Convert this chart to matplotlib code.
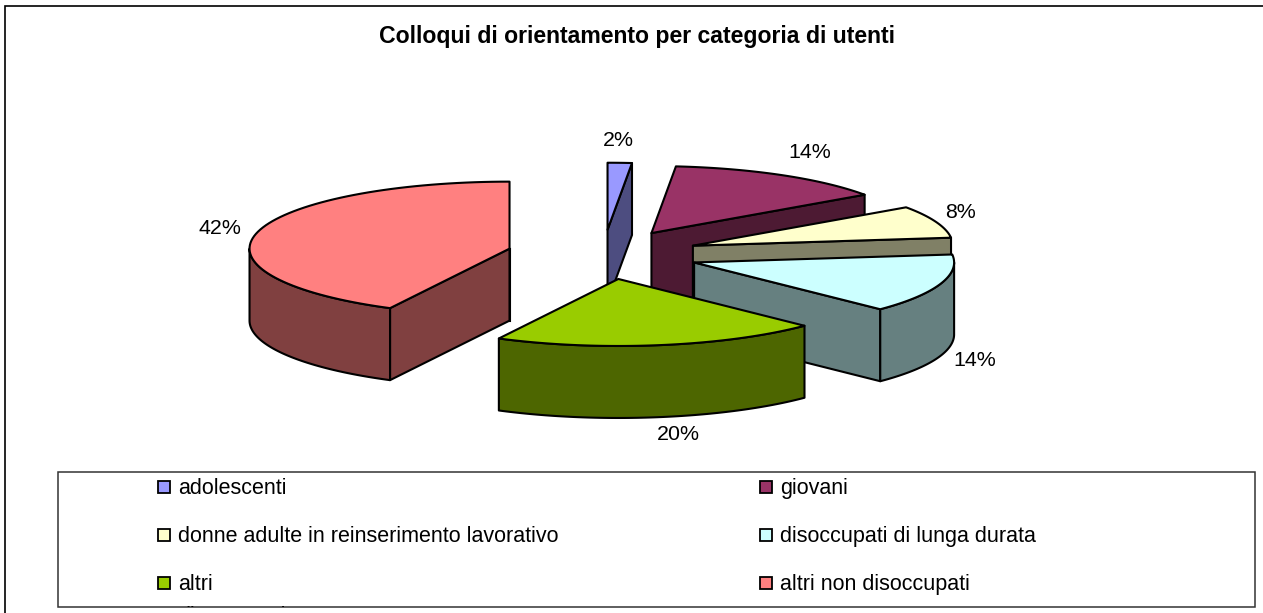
import numpy as np
import matplotlib
matplotlib.use('Agg')
import matplotlib.pyplot as plt
from matplotlib.colors import to_rgb
from matplotlib.patches import Polygon, Rectangle

categories = ['adolescenti', 'giovani', 'donne adulte in reinserimento lavorativo',
              'disoccupati di lunga durata', 'altri\ndisoccupati', 'altri non disoccupati']
values = [1.5, 13.8, 7.8, 14.2, 20.3, 42.4]
colours = ['#9999FF', '#993366', '#FFFFCC', '#CCFFFF', '#99CC00', '#FF8080']
draw_order = [5, 0, 1, 2, 3, 4]
title = 'Colloqui di orientamento per categoria di utenti'

plt.rcParams['font.family'] = ['Liberation Sans', 'DejaVu Sans']

W, H = 1263, 613
CX, CY = 603, 254.5
RX, RY = 260, 67
DEPTH = 72
EXPLODE = 0.37
LW = 1.5


def rim(theta, c):
    t = np.radians(theta)
    return c[0] + RX * np.sin(t), c[1] - RY * np.cos(t)


def arc(t1, t2, c, drop=0):
    ts = np.linspace(t1, t2, 80)
    x, y = rim(ts, c)
    return np.column_stack([x, y + drop])


def draw_slice(ax, t1, t2, colour):
    mid = (t1 + t2) / 2
    c = np.array(rim(mid, (0, 0))) * EXPLODE + (CX, CY)
    top = to_rgb(colour)
    dark = tuple(v * 0.5 for v in top)
    style = dict(edgecolor='black', linewidth=LW, joinstyle='round')

    # radial faces, only those that point at the viewer
    for t, visible in ((t1, np.sin(np.radians(t1)) < -1e-6), (t2, np.sin(np.radians(t2)) > 1e-6)):
        if visible:
            p = np.array(rim(t, c))
            face = [c, p, p + (0, DEPTH), c + (0, DEPTH)]
            ax.add_patch(Polygon(face, closed=True, facecolor=dark, **style))

    # outer wall on the front half
    lo, hi = max(t1, 90), min(t2, 270)
    if lo < hi:
        wall = np.vstack([arc(lo, hi, c), arc(hi, lo, c, DEPTH)])
        ax.add_patch(Polygon(wall, closed=True, facecolor=dark, **style))

    # edge of a slice that ends at 12 o'clock
    if abs(t2 - 360) < 1e-6:
        ax.plot([c[0], c[0]], [c[1], c[1] + DEPTH], color='black', lw=LW)

    ax.add_patch(Polygon(np.vstack([c, arc(t1, t2, c)]), closed=True, facecolor=top, **style))


fig = plt.figure(figsize=(W / 100, H / 100), dpi=100)
ax = fig.add_axes([0, 0, 1, 1])
ax.set_xlim(0, W)
ax.set_ylim(H, 0)
ax.axis('off')

# outer frame runs off the right and bottom of the picture
ax.add_patch(Rectangle((5, 6), 1300, 640, facecolor='white', edgecolor='black', linewidth=1.2))
ax.text(637, 37, title, fontsize=16.6, fontweight='bold', ha='center', va='center')

angles = np.cumsum([0] + values) / sum(values) * 360
for i in draw_order:
    draw_slice(ax, angles[i], angles[i + 1], colours[i])

# data labels
label_pos = [(618, 141), (810, 152), (960, 213), (975, 361), (678, 435), (220, 228)]
for v, (x, y) in zip(values, label_pos):
    ax.text(x, y, f'{v:.0f}%', fontsize=15.4, ha='center', va='center')

# legend, its last entry is cut by the box as in the original
box = Rectangle((58, 472), 1197, 135, facecolor='white', edgecolor='#333333', linewidth=1.1, zorder=3)
ax.add_patch(box)
col_x = [158, 760]
row_y = [487, 535, 583]
for i, name in enumerate(categories):
    x, y = col_x[i % 2], row_y[i // 2]
    ax.add_patch(Rectangle((x, y - 6), 12, 12, facecolor=colours[i], edgecolor='black',
                           linewidth=1.3, zorder=4))
    t = ax.text(x + 20, y - 9, name, fontsize=15.5, va='top', linespacing=1.7, zorder=4)
    t.set_clip_path(box)
    t.set_clip_on(True)

fig.savefig('out.png', dpi=100)
